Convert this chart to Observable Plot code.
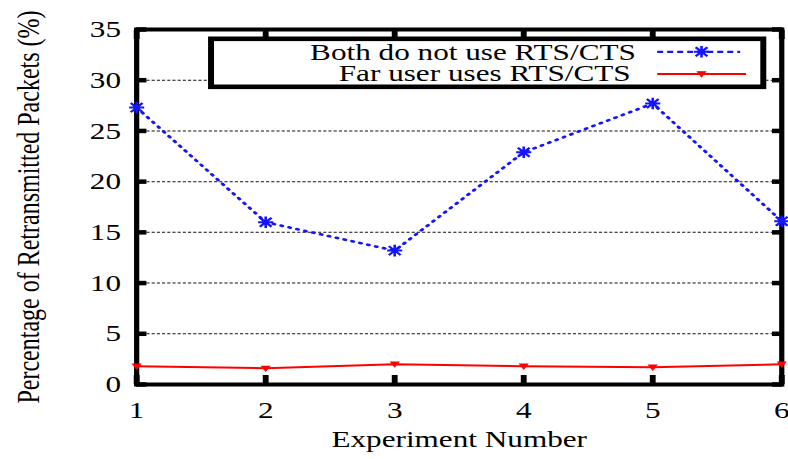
<!DOCTYPE html>
<html>
<head>
<meta charset="utf-8">
<script src="https://cdn.jsdelivr.net/npm/d3@7"></script>
<script src="https://cdn.jsdelivr.net/npm/@observablehq/plot@0.6"></script>
<style>
  html, body { margin: 0; padding: 0; background: #fff; }
  #chart svg { display: block; }
</style>
</head>
<body>
<div id="chart"></div>
<script>
// Retransmitted packets per experiment, two RTS/CTS configurations
const experiments = [1, 2, 3, 4, 5, 6];
const bothNoRtsCts = [27.3, 16.0, 13.2, 22.9, 27.7, 16.1];
const farUserRtsCts = [1.8, 1.6, 2.0, 1.8, 1.7, 2.0];
const seriesNames = ["Both do not use RTS/CTS", "Far user uses RTS/CTS"];
const yTicks = [0, 5, 10, 15, 20, 25, 30, 35];
const gridTicks = [5, 10, 15, 20, 25, 30];
const xTitle = "Experiment Number";
const yTitle = "Percentage of Retransmitted Packets (%)";

const blueRows = experiments.map((x, i) => ({x, y: bothNoRtsCts[i]}));
const redRows = experiments.map((x, i) => ({x, y: farUserRtsCts[i]}));

// The figure is laid out on a narrower canvas and widened horizontally,
// giving the wide-glyph look of the printed figure.
const W = 606, H = 459, OUT_W = 788;
const FONT = "Liberation Serif, DejaVu Serif, Times New Roman, serif";

// gnuplot-style point symbols: "*" (plus + cross) and a filled down triangle
const star = {
  draw(ctx, size) {
    const r = Math.sqrt(size / Math.PI), d = r * 0.78;
    ctx.moveTo(-r, 0); ctx.lineTo(r, 0);
    ctx.moveTo(0, -r); ctx.lineTo(0, r);
    ctx.moveTo(-d, -d); ctx.lineTo(d, d);
    ctx.moveTo(-d, d); ctx.lineTo(d, -d);
  }
};
const triDown = {
  draw(ctx, size) {
    const r = Math.sqrt(size / Math.PI);
    ctx.moveTo(-r, -r * 0.7);
    ctx.lineTo(r, -r * 0.7);
    ctx.lineTo(0, r * 0.9);
    ctx.closePath();
  }
};

const BLUE = "#1414ff", RED = "#ff0000";
const tickOpts = {strokeWidth: 4.5, tickFormat: () => "", label: null};

const chart = Plot.plot({
  width: W,
  height: H,
  marginLeft: 104.6,
  marginRight: 5.3,
  marginTop: 29,
  marginBottom: 75,
  style: {fontFamily: FONT, fontSize: "24px", color: "#000", background: "#fff"},
  x: {domain: [1, 6], axis: null},
  y: {domain: [0, 35], axis: null},
  marks: [
    Plot.ruleY(gridTicks, {stroke: "#111", strokeWidth: 1, strokeDasharray: "2.4,1.6"}),
    Plot.frame({stroke: "#000", strokeWidth: 4}),
    // inward tick marks on all four sides
    Plot.axisY(yTicks, {anchor: "left", tickSize: -8, ...tickOpts}),
    Plot.axisY(yTicks, {anchor: "right", tickSize: -8, ...tickOpts}),
    Plot.axisX(experiments, {anchor: "bottom", tickSize: -9, ...tickOpts}),
    Plot.axisX(experiments, {anchor: "top", tickSize: -9, ...tickOpts}),
    // tick labels
    Plot.axisY(yTicks, {anchor: "left", tickSize: 0, tickPadding: 12, fill: "#000", label: null, fontFamily: FONT, fontSize: 24}),
    Plot.axisX(experiments, {anchor: "bottom", tickSize: 0, tickPadding: 16, fill: "#000", label: null, fontFamily: FONT, fontSize: 24}),
    // axis titles
    Plot.text([xTitle], {frameAnchor: "bottom", textAnchor: "middle", dy: 62, text: d => d, fill: "#000", fontFamily: FONT, fontSize: 24}),
    Plot.text([yTitle], {frameAnchor: "left", textAnchor: "middle", rotate: -90, dx: -83, text: d => d, fill: "#000", fontFamily: FONT, fontSize: 24}),
    // series
    Plot.line(redRows, {x: "x", y: "y", stroke: RED, strokeWidth: 2}),
    Plot.dot(redRows, {x: "x", y: "y", symbol: triDown, r: 3.2, fill: RED, stroke: RED, strokeWidth: 0.8}),
    Plot.line(blueRows, {x: "x", y: "y", stroke: BLUE, strokeWidth: 2.6, strokeDasharray: "1.3,5"}),
    Plot.dot(blueRows, {x: "x", y: "y", symbol: star, r: 5.8, fill: "none", stroke: BLUE, strokeWidth: 2})
  ]
});

// Key box in the top part of the frame
const svg = d3.select(chart);
const key = svg.append("g").attr("font-family", FONT).attr("font-size", 24);
key.append("rect")
  .attr("x", 162.3).attr("y", 38.8)
  .attr("width", 587 - 162.3).attr("height", 86.8 - 38.8)
  .attr("fill", "#fff").attr("stroke", "#000").attr("stroke-width", 4.6);
const keyRows = [
  {name: seriesNames[0], textX: 489, baseline: 59.7, sampleY: 51.8, x2: 569.2, color: BLUE, dash: "4.6,3.1", symbol: star, r: 5.8},
  {name: seriesNames[1], textX: 485, baseline: 81.3, sampleY: 74, x2: 573.8, color: RED, dash: null, symbol: triDown, r: 3.2}
];
for (const row of keyRows) {
  key.append("text")
    .attr("x", row.textX).attr("y", row.baseline)
    .attr("text-anchor", "end").attr("fill", "#000")
    .text(row.name);
  key.append("line")
    .attr("x1", 505.4).attr("x2", row.x2)
    .attr("y1", row.sampleY).attr("y2", row.sampleY)
    .attr("stroke", row.color).attr("stroke-width", 2.2)
    .attr("stroke-dasharray", row.dash);
  const isStar = row.symbol === star;
  key.append("path")
    .attr("transform", `translate(539.5,${row.sampleY})`)
    .attr("d", d3.symbol(row.symbol, Math.PI * row.r * row.r)())
    .attr("fill", isStar ? "none" : row.color)
    .attr("stroke", row.color)
    .attr("stroke-width", isStar ? 2 : 0.8);
}

// widen the drawing to the page width
chart.setAttribute("width", OUT_W);
chart.setAttribute("height", H);
chart.setAttribute("viewBox", `0 0 ${W} ${H}`);
chart.setAttribute("preserveAspectRatio", "none");
chart.style.maxWidth = "none";
chart.style.width = OUT_W + "px";
chart.style.height = H + "px";

document.getElementById("chart").appendChild(chart);
</script>
</body>
</html>
